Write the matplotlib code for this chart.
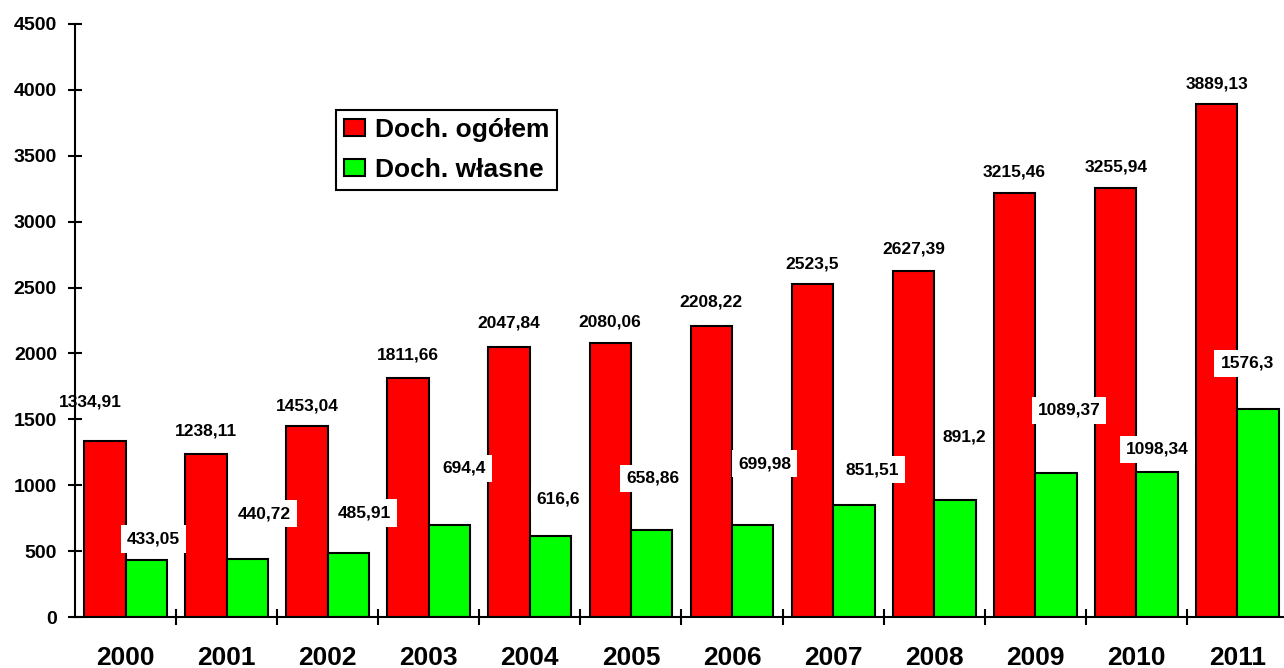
import matplotlib
matplotlib.use('Agg')
import matplotlib.pyplot as plt
import numpy as np

years = ['2000', '2001', '2002', '2003', '2004', '2005',
         '2006', '2007', '2008', '2009', '2010', '2011']
doch_ogolem = [1334.91, 1238.11, 1453.04, 1811.66, 2047.84, 2080.06,
               2208.22, 2523.5, 2627.39, 3215.46, 3255.94, 3889.13]
doch_wlasne = [433.05, 440.72, 485.91, 694.4, 616.6, 658.86,
               699.98, 851.51, 891.2, 1089.37, 1098.34, 1576.3]
labels_ogolem = ['1334,91', '1238,11', '1453,04', '1811,66', '2047,84', '2080,06',
                 '2208,22', '2523,5', '2627,39', '3215,46', '3255,94', '3889,13']
labels_wlasne = ['433,05', '440,72', '485,91', '694,4', '616,6', '658,86',
                 '699,98', '851,51', '891,2', '1089,37', '1098,34', '1576,3']

# label placement (pixels from bar top), as moved by hand in the original
red_dx = [-15, 0, 0, 0, 0, 0, 0, 0, 0, 0, 0, 0]
red_dy = [39, 23, 20, 23, 24, 21, 24, 20, 22, 21, 21, 20]
green_dx = [7, 17, 16, 15, 8, 1, 12, 18, 9, 13, 0, -11]
green_dy = [21, 45, 40, 57, 37, 52, 61, 35, 63, 63, 23, 46]

plt.rcParams['font.family'] = ['Liberation Sans', 'DejaVu Sans']
plt.rcParams['font.weight'] = 'bold'

W, H = 1284, 668
fig = plt.figure(figsize=(W / 100, H / 100), dpi=100)
ax = fig.add_axes([75 / W, 51 / H, (1288 - 75) / W, (617 - 24) / H])

x = np.arange(len(years))
bw = 0.41
ax.bar(x - bw / 2, doch_ogolem, bw, color='#ff0000', edgecolor='black',
       linewidth=1.5, label='Doch. ogółem', zorder=2)
ax.bar(x + bw / 2, doch_wlasne, bw, color='#00ff00', edgecolor='black',
       linewidth=1.5, label='Doch. własne', zorder=2)

px = 0.72  # points per pixel at dpi 100
for i in range(len(years)):
    ax.annotate(labels_ogolem[i], (x[i] - bw / 2, doch_ogolem[i]),
                xytext=(red_dx[i] * px, red_dy[i] * px), textcoords='offset points',
                ha='center', va='center', fontsize=12.5, fontweight='bold',
                zorder=5)
    ax.annotate(labels_wlasne[i], (x[i] + bw / 2, doch_wlasne[i]),
                xytext=(green_dx[i] * px, green_dy[i] * px), textcoords='offset points',
                ha='center', va='center', fontsize=12.5, fontweight='bold',
                bbox=dict(boxstyle='square,pad=0.35', fc='white', ec='none'),
                zorder=5)

ax.set_xlim(-0.5, len(years) - 0.5)
ax.set_ylim(0, 4500)
ax.set_yticks(np.arange(0, 4501, 500))
ax.set_xticks(x)
ax.set_xticklabels(years, fontsize=19, fontweight='bold')
ax.set_xticks(np.arange(0.5, len(years) - 1, 1), minor=True)

for s in ['top', 'right']:
    ax.spines[s].set_visible(False)
for s in ['left', 'bottom']:
    ax.spines[s].set_linewidth(1.5)
    ax.spines[s].set_zorder(6)

ax.tick_params(axis='y', direction='inout', length=10, width=1.5, pad=8,
               labelsize=14)
ax.tick_params(axis='x', which='major', length=0, pad=21)
ax.tick_params(axis='x', which='minor', direction='inout', length=12, width=1.5)
for t in ax.get_yticklabels():
    t.set_fontweight('bold')

leg = ax.legend(loc='upper left', bbox_to_anchor=((336 - 75) / (1288 - 75), (617 - 110) / 593),
                bbox_transform=ax.transAxes, borderaxespad=0,
                prop={'weight': 'bold', 'size': 19},
                handlelength=0.8, handleheight=0.6, handletextpad=0.36,
                borderpad=0.3, labelspacing=0.6, fancybox=False,
                edgecolor='black', framealpha=1)
leg.get_frame().set_linewidth(1.5)

fig.savefig('out.png', dpi=100)
